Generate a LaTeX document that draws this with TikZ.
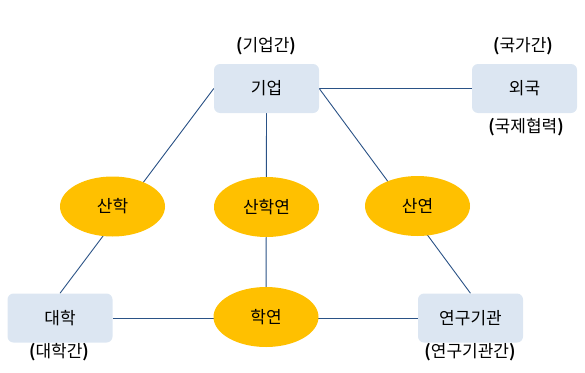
\documentclass[tikz,border=0pt]{standalone}
\usepackage{fontspec}
\setmainfont{Noto Sans CJK KR}[BoldFont={Noto Sans CJK KR Bold}]
\usetikzlibrary{shapes.geometric,backgrounds}
\definecolor{boxfill}{HTML}{DCE6F2}
\definecolor{ellfill}{HTML}{FFC000}
\definecolor{linecol}{HTML}{2A5286}
\tikzset{
  orgbox/.style={rectangle, rounded corners=6pt, fill=boxfill, minimum width=105pt, minimum height=49pt, inner sep=0pt, font=\fontsize{17}{20}\selectfont},
  coop/.style={ellipse, fill=ellfill, minimum width=105pt, minimum height=60pt, inner sep=0pt, font=\fontsize{17}{20}\selectfont},
  lbl/.style={inner sep=0pt, font=\fontsize{17}{20}\selectfont},
  link/.style={draw=linecol, line width=0.9pt}
}
\newcommand{\pl}[1]{{\bfseries(}#1{\bfseries)}}
\begin{document}
\begin{tikzpicture}[x=1pt,y=-1pt]
\useasboundingbox (0,0) rectangle (585,372);
\node[orgbox] (giup) at (266.5,88.5) {기업};
\node[orgbox] (oeguk) at (524.5,88.5) {외국};
\node[orgbox] (daehak) at (60,318) {대학};
\node[orgbox] (yeongu) at (470.5,318) {연구기관};
\node[coop] (sanhak) at (112.5,206.5) {산학};
\node[coop] (sanhakyeon) at (266.5,207) {산학연};
\node[coop] (sanyeon) at (417.5,206) {산연};
\node[coop] (hakyeon) at (266,317) {학연};
\node[lbl] (l1) at (266,46) {\pl{기업간}};
\node[lbl] (l2) at (523,46) {\pl{국가간}};
\node[lbl] (l3) at (526,127) {\pl{국제협력}};
\node[lbl] (l4) at (59,352) {\pl{대학간}};
\node[lbl] (l5) at (470,352) {\pl{연구기관간}};
\begin{scope}[on background layer]
\draw[link] (giup.west) -- (daehak.north);
\draw[link] (giup.east) -- (yeongu.north);
\draw[link] (giup.east) -- (oeguk.west);
\draw[link] (giup.south) -- (hakyeon.center);
\draw[link] (daehak.east) -- (yeongu.west);
\end{scope}
\end{tikzpicture}
\end{document}
